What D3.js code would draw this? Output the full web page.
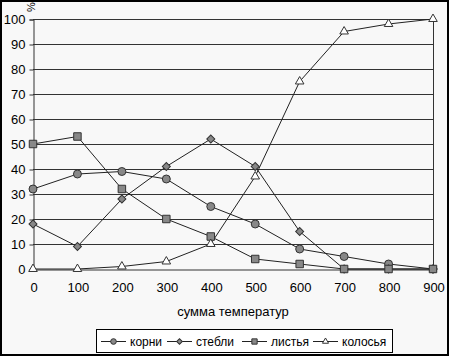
<!DOCTYPE html>
<html>
<head>
<meta charset="utf-8">
<script src="https://cdn.jsdelivr.net/npm/d3@7"></script>
<style>
  body { margin: 0; background: #fff; }
  svg { display: block; font-family: "Liberation Sans", Arial, sans-serif; }
</style>
</head>
<body>
<svg></svg>
<script>
const temps = [0, 100, 200, 300, 400, 500, 600, 700, 800, 900];
const korni = [32, 38, 39, 36, 25, 18, 8, 5, 2, 0];
const stebli = [18, 9, 28, 41, 52, 41, 15, 0, 0, 0];
const listya = [50, 53, 32, 20, 13, 4, 2, 0, 0, 0];
const kolosya = [0, 0, 1, 3, 10, 37, 75, 95, 98, 100];
const seriesNames = ['корни', 'стебли', 'листья', 'колосья'];
const yTicks = [0, 10, 20, 30, 40, 50, 60, 70, 80, 90, 100];

const series = [
    { name: seriesNames[0], values: korni, shape: 'circle' },
    { name: seriesNames[1], values: stebli, shape: 'diamond' },
    { name: seriesNames[2], values: listya, shape: 'square' },
    { name: seriesNames[3], values: kolosya, shape: 'triangle' }
];

const svgWidth = 449;
const svgHeight = 356;
const margin = { top: 19, right: 16, bottom: 87, left: 33 };
const width = svgWidth - margin.left - margin.right;
const height = svgHeight - margin.top - margin.bottom;

const root = d3.select('svg')
    .attr('width', svgWidth)
    .attr('height', svgHeight);

// chart background + outer frame
root.append('rect')
    .attr('x', 1).attr('y', 1)
    .attr('width', svgWidth - 2).attr('height', svgHeight - 2)
    .attr('fill', '#f8f8f8')
    .attr('stroke', '#000')
    .attr('stroke-width', 2);

const svg = root.append('g')
    .attr('transform', `translate(${margin.left}, ${margin.top})`);

const xScale = d3.scaleLinear()
    .domain([0, 900])
    .range([0, width]);

const yScale = d3.scaleLinear()
    .domain([0, 100])
    .range([height, 0]);

// gridlines
svg.append('g')
    .selectAll('line')
    .data(yTicks.slice(1))
    .enter().append('line')
    .attr('x1', 0)
    .attr('x2', width)
    .attr('y1', d => Math.round(yScale(d)) + 0.5)
    .attr('y2', d => Math.round(yScale(d)) + 0.5)
    .attr('stroke', '#333')
    .attr('stroke-width', 1);

// right border of plot
svg.append('line')
    .attr('x1', width + 0.5).attr('x2', width + 0.5)
    .attr('y1', 0).attr('y2', height)
    .attr('stroke', '#333');

const yAxis = svg.append('g')
    .attr('transform', 'translate(0.5, 0.5)')
    .call(d3.axisLeft(yScale).tickValues(yTicks).tickSize(4).tickPadding(4));
yAxis.select('.domain').attr('stroke', '#333');
yAxis.selectAll('.tick line').attr('stroke', '#333');
yAxis.selectAll('.tick text')
    .attr('font-size', '13px')
    .attr('fill', '#000')
    .attr('font-family', '"Liberation Sans", Arial, sans-serif');

const xAxis = svg.append('g')
    .attr('transform', `translate(0.5, ${height + 0.5})`)
    .call(d3.axisBottom(xScale).tickValues(temps).tickSize(0).tickPadding(13));
xAxis.select('.domain').attr('stroke', '#333');
xAxis.selectAll('.tick text')
    .attr('font-size', '13px')
    .attr('fill', '#000')
    .attr('font-family', '"Liberation Sans", Arial, sans-serif');

svg.append('text')
    .attr('x', width / 2)
    .attr('y', height + 47)
    .attr('text-anchor', 'middle')
    .attr('font-size', '13px')
    .text('сумма температур');

svg.append('text')
    .attr('transform', `translate(-2, -12) rotate(-90)`)
    .attr('text-anchor', 'middle')
    .attr('dy', '0.35em')
    .attr('font-size', '11px')
    .text('%');

const line = d3.line()
    .x((d, i) => xScale(temps[i]))
    .y(d => yScale(d));

const sizes = { circle: 50, diamond: 32, square: 56, triangle: 32 };

function drawMarker(g, shape, k) {
    const type = shape === 'circle' ? d3.symbolCircle
        : shape === 'triangle' ? d3.symbolTriangle
        : d3.symbolSquare;
    g.append('path')
        .attr('d', d3.symbol().type(type).size(sizes[shape] * k)())
        .attr('transform', shape === 'diamond' ? 'rotate(45)' : null)
        .attr('fill', shape === 'triangle' ? '#fff' : '#888')
        .attr('stroke', '#333')
        .attr('stroke-width', 1);
}

series.forEach(s => {
    svg.append('path')
        .datum(s.values)
        .attr('fill', 'none')
        .attr('stroke', '#222')
        .attr('stroke-width', 1)
        .attr('d', line);
});

series.forEach(s => {
    s.values.forEach((v, i) => {
        const g = svg.append('g')
            .attr('transform', `translate(${xScale(temps[i])}, ${yScale(v)})`);
        drawMarker(g, s.shape, 1);
    });
});

// legend
const legend = root.append('g');
legend.append('rect')
    .attr('x', 96.5).attr('y', 329.5)
    .attr('width', 296).attr('height', 23)
    .attr('fill', '#fff')
    .attr('stroke', '#000');

const legendX = [101, 167, 242, 313];
series.forEach((s, i) => {
    const g = legend.append('g').attr('transform', `translate(${legendX[i]}, 341.5)`);
    g.append('line')
        .attr('x1', 0).attr('x2', 25)
        .attr('stroke', '#222');
    const m = g.append('g').attr('transform', 'translate(12.5, 0)');
    drawMarker(m, s.shape, 0.5);
    g.append('text')
        .attr('x', 29)
        .attr('dy', '0.35em')
        .attr('font-size', '12px')
        .text(s.name);
});
</script>
</body>
</html>
